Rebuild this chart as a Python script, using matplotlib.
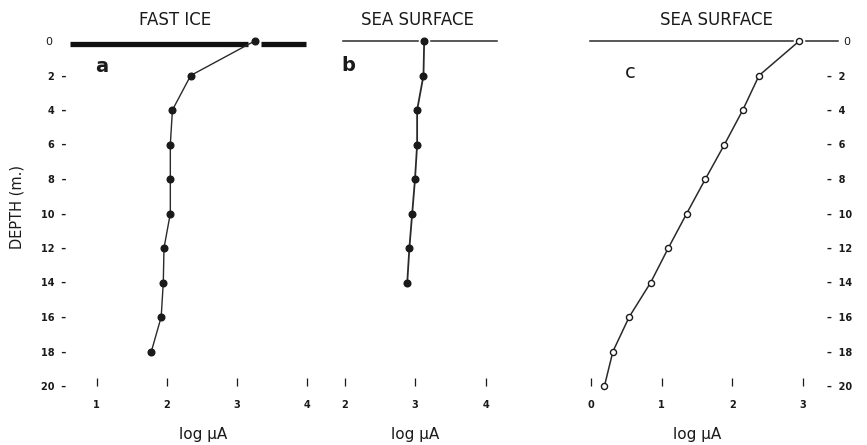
import matplotlib
matplotlib.use("Agg")
import matplotlib.pyplot as plt
from matplotlib.ticker import FixedLocator, FixedFormatter

# ---- data ----
depth_a = [0, 2, 4, 6, 8, 10, 12, 14, 16, 18]
logua_a = [3.25, 2.34, 2.08, 2.05, 2.05, 2.05, 1.96, 1.95, 1.92, 1.78]

depth_b = [0, 2, 4, 6, 8, 10, 12, 14]
logua_b = [3.13, 3.12, 3.03, 3.03, 3.00, 2.96, 2.92, 2.89]

depth_c = [0, 2, 4, 6, 8, 10, 12, 14, 16, 18, 20]
logua_c = [2.95, 2.38, 2.15, 1.89, 1.62, 1.355, 1.095, 0.845, 0.54, 0.31, 0.19]

depth_ticks = [0, 2, 4, 6, 8, 10, 12, 14, 16, 18, 20]
xticks_a = [1, 2, 3, 4]
xticks_b = [2, 3, 4]
xticks_c = [0, 1, 2, 3]
titles = ["FAST ICE", "SEA SURFACE", "SEA SURFACE"]
letters = ["a", "b", "c"]
xlabel = "log \u03bcA"
ylabel = "DEPTH (m.)"

# surface line extents (log uA units)
surface_a = (0.62, 3.98)
surface_b = (1.98, 4.16)
surface_c = (-0.01, 3.50)

W, H = 867, 445
fig = plt.figure(figsize=(W / 100, H / 100), dpi=100)
fig.patch.set_facecolor("white")

y_top_px, y_bot_px = 41, 386
bottom = 1 - y_bot_px / H
height = (y_bot_px - y_top_px) / H


def make_ax(left_px, right_px, xlim):
    ax = fig.add_axes([left_px / W, bottom, (right_px - left_px) / W, height])
    ax.set_xlim(*xlim)
    ax.set_ylim(20, 0)
    for s in ax.spines.values():
        s.set_visible(False)
    ax.patch.set_alpha(0)
    return ax


ax_a = make_ax(68.4, 310.9, (0.6, 4.05))
ax_b = make_ax(341.0, 499.6, (1.95, 4.2))
ax_c = make_ax(587.5, 824.0, (-0.05, 3.3))

ink = "#1a1a1a"
line_col = "#2a2a2a"
tick_fs = 7

for ax, xt in zip([ax_a, ax_b, ax_c], [xticks_a, xticks_b, xticks_c]):
    ax.set_xticks(xt)
    ax.set_xticklabels([str(v) for v in xt], fontweight="bold")
    ax.tick_params(axis="x", direction="in", length=6, width=0.9, color=ink,
                   pad=10, labelsize=tick_fs, labelcolor=ink)
    ax.set_xlabel(xlabel, fontsize=11, color=ink)

ax_a.xaxis.set_label_coords((203 - 68.4) / 242.5, -0.118)
ax_b.xaxis.set_label_coords((415 - 341.0) / 158.6, -0.118)
ax_c.xaxis.set_label_coords((697 - 587.5) / 236.5, -0.118)

# y axis: left on panel a, right on panel c, none on b
ax_b.set_yticks([])

ax_a.yaxis.set_major_locator(FixedLocator(depth_ticks[1:]))
ax_a.yaxis.set_major_formatter(FixedFormatter([f"{d}  \u2013" for d in depth_ticks[1:]]))
ax_a.yaxis.set_minor_locator(FixedLocator(depth_ticks[:1]))
ax_a.yaxis.set_minor_formatter(FixedFormatter([str(depth_ticks[0])]))
ax_a.tick_params(axis="y", which="major", length=0, pad=1.5, labelsize=tick_fs, labelcolor=ink)
ax_a.tick_params(axis="y", which="minor", length=0, pad=11.5, labelsize=tick_fs + 1, labelcolor=ink)
for lab in ax_a.get_yticklabels():
    lab.set_fontweight("bold")

ax_c.yaxis.tick_right()
ax_c.yaxis.set_major_locator(FixedLocator(depth_ticks[1:]))
ax_c.yaxis.set_major_formatter(FixedFormatter([f"\u2013  {d}" for d in depth_ticks[1:]]))
ax_c.yaxis.set_minor_locator(FixedLocator(depth_ticks[:1]))
ax_c.yaxis.set_minor_formatter(FixedFormatter([str(depth_ticks[0])]))
ax_c.tick_params(axis="y", which="major", length=0, pad=2, labelsize=tick_fs, labelcolor=ink)
ax_c.tick_params(axis="y", which="minor", length=0, pad=14, labelsize=tick_fs + 1, labelcolor=ink)
for lab in ax_c.get_yticklabels():
    lab.set_fontweight("bold")

fig.text(17 / W, 1 - 207 / H, ylabel, rotation=90, ha="center", va="center",
         fontsize=10.5, color=ink)

gap = 0.09

# panel a: fast ice bar, broken around the surface point
ice_depth = 0.15
ax_a.plot([surface_a[0], logua_a[0] - gap], [ice_depth, ice_depth], color="#111111",
          lw=3.8, solid_capstyle="butt", clip_on=False, zorder=2)
ax_a.plot([logua_a[0] + gap, surface_a[1]], [ice_depth, ice_depth], color="#111111",
          lw=3.8, solid_capstyle="butt", clip_on=False, zorder=2)
ax_a.plot(logua_a, depth_a, color=line_col, lw=1.0, marker="o", markersize=4.8,
          markerfacecolor=ink, markeredgecolor=ink, clip_on=False, zorder=3)

# panel b
ax_b.plot([surface_b[0], logua_b[0] - gap], [0, 0], color=line_col, lw=1.1, clip_on=False)
ax_b.plot([logua_b[0] + gap, surface_b[1]], [0, 0], color=line_col, lw=1.1, clip_on=False)
ax_b.plot(logua_b, depth_b, color=line_col, lw=1.3, marker="o", markersize=4.8,
          markerfacecolor=ink, markeredgecolor=ink, clip_on=False, zorder=3)

# panel c
ax_c.plot([surface_c[0], logua_c[0] - gap], [0, 0], color=line_col, lw=1.1, clip_on=False)
ax_c.plot([logua_c[0] + gap, surface_c[1]], [0, 0], color=line_col, lw=1.1, clip_on=False)
ax_c.plot(logua_c, depth_c, color=line_col, lw=1.1, marker="o", markersize=4.4,
          markerfacecolor="white", markeredgecolor=ink, markeredgewidth=1.0,
          clip_on=False, zorder=3)

# titles and panel letters
for ax, title, tx in zip([ax_a, ax_b, ax_c], titles, [2.12, 3.04, 1.78]):
    ax.text(tx, -1.2, title, ha="center", va="center", fontsize=12, color=ink,
            clip_on=False)

ax_a.text(1.08, 1.5, letters[0], ha="center", va="center", fontsize=14,
          fontweight="bold", color=ink)
ax_b.text(2.05, 1.4, letters[1], ha="center", va="center", fontsize=14,
          fontweight="bold", color=ink)
ax_c.text(0.55, 1.8, letters[2], ha="center", va="center", fontsize=14,
          color=ink)

fig.savefig("out.png", dpi=100, facecolor="white")
